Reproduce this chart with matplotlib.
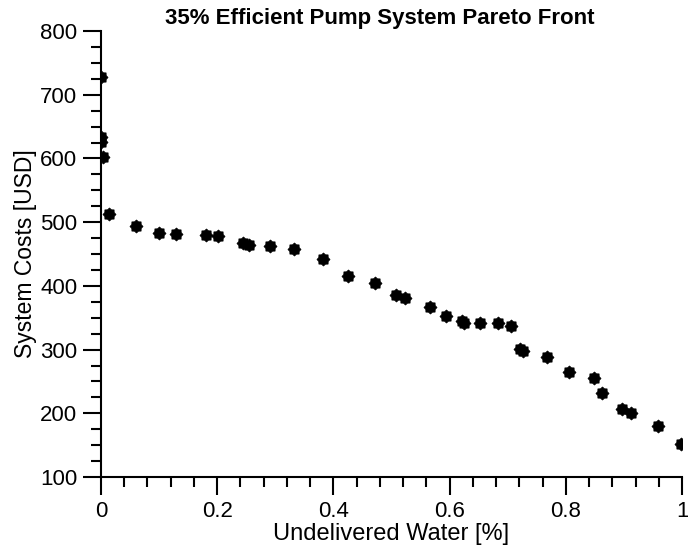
import matplotlib
matplotlib.use("Agg")
import matplotlib.pyplot as plt
from matplotlib.path import Path
from matplotlib.ticker import MultipleLocator

plt.rcParams['font.family'] = ['Liberation Sans', 'DejaVu Sans']

# Pareto front: undelivered water fraction vs. system cost
undelivered = [0.000, 0.000, 0.000, 0.003, 0.013, 0.060, 0.100, 0.129, 0.181, 0.201,
               0.244, 0.255, 0.291, 0.333, 0.382, 0.425, 0.472, 0.507, 0.523, 0.566,
               0.594, 0.621, 0.624, 0.652, 0.684, 0.705, 0.722, 0.726, 0.767, 0.806,
               0.849, 0.863, 0.896, 0.912, 0.959, 0.999]
cost_usd = [728, 633, 626, 602, 513, 494, 483, 481, 480, 478,
            467, 464, 462, 458, 442, 416, 404, 386, 381, 367,
            353, 345, 341, 341, 341, 337, 301, 298, 289, 265,
            256, 232, 206, 200, 180, 152]

title = "35% Efficient Pump System Pareto Front"
xlabel = "Undelivered Water [%]"
ylabel = "System Costs [USD]"
x_ticks = [0, 0.2, 0.4, 0.6, 0.8, 1]
x_ticklabels = ["0", "0.2", "0.4", "0.6", "0.8", "1"]
y_ticks = [100, 200, 300, 400, 500, 600, 700, 800]

# eight-pointed blob marker
blob = Path.unit_regular_star(8, innerCircle=0.78)

fig = plt.figure(figsize=(6.88, 5.5), dpi=100)
ax = fig.add_axes([0.1468, 0.1327, 0.8445, 0.8109])

ax.plot(undelivered, cost_usd, linestyle='none', marker=blob,
        markersize=9.3, color='black', markeredgewidth=0.6)

ax.set_xlim(0, 1)
ax.set_ylim(100, 800)
ax.set_xticks(x_ticks)
ax.set_xticklabels(x_ticklabels)
ax.set_yticks(y_ticks)
ax.xaxis.set_minor_locator(MultipleLocator(0.04))
ax.yaxis.set_minor_locator(MultipleLocator(25))

for side in ('top', 'right'):
    ax.spines[side].set_visible(False)
for side in ('left', 'bottom'):
    ax.spines[side].set_linewidth(1.5)

ax.tick_params(which='major', direction='out', length=13, width=1.5,
               labelsize=16, pad=4)
ax.tick_params(which='minor', direction='out', length=7, width=1.5)

ax.set_title(title, fontsize=16, fontweight='bold', pad=5, x=0.48)
ax.set_xlabel(xlabel, fontsize=17, labelpad=1)
ax.set_ylabel(ylabel, fontsize=16.5, labelpad=2)

fig.savefig("out.png", dpi=100)
